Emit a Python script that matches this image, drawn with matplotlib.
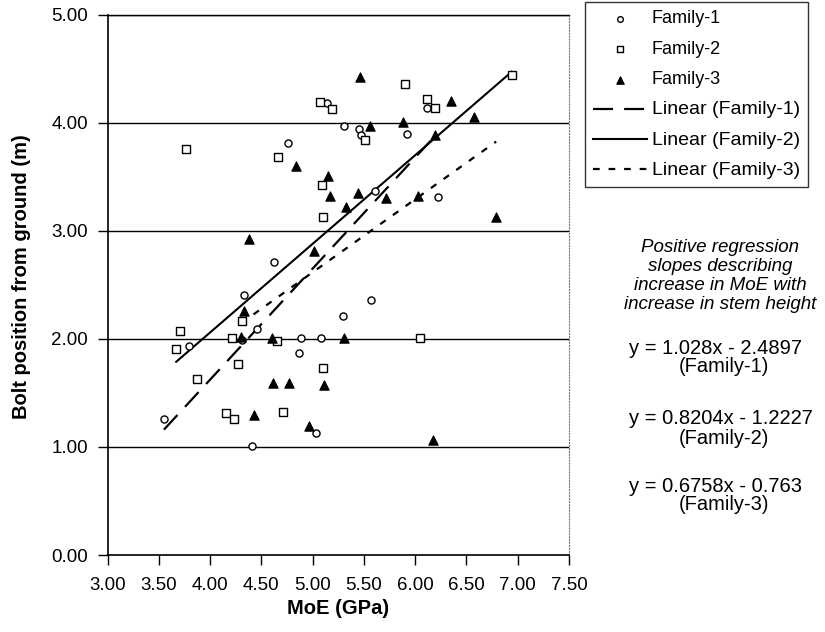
import numpy as np
import matplotlib
matplotlib.use("Agg")
import matplotlib.pyplot as plt

plt.rcParams['font.family'] = ['Liberation Sans', 'DejaVu Sans']

#%% data (MoE in GPa, bolt position in m)
f1_moe = [5.14, 5.31, 5.45, 5.47, 4.76, 5.61, 6.12, 5.92, 6.22, 4.62, 4.33,
          4.46, 3.79, 4.31, 4.89, 5.08, 5.30, 5.57, 4.87, 3.55, 5.03, 4.41]
f1_pos = [4.18, 3.97, 3.94, 3.89, 3.81, 3.37, 4.14, 3.90, 3.31, 2.71, 2.41,
          2.09, 1.93, 1.99, 2.01, 2.01, 2.21, 2.36, 1.87, 1.26, 1.13, 1.01]

f2_moe = [5.07, 5.19, 5.51, 3.77, 4.66, 5.09, 5.10, 5.90, 6.12, 6.19, 6.94,
          4.31, 3.71, 3.67, 4.21, 4.65, 4.27, 5.10, 3.87, 4.16, 4.23, 4.71, 6.05]
f2_pos = [4.19, 4.13, 3.84, 3.76, 3.68, 3.42, 3.13, 4.36, 4.22, 4.14, 4.44,
          2.17, 2.07, 1.91, 2.01, 1.98, 1.77, 1.73, 1.63, 1.31, 1.26, 1.32, 2.01]

f3_moe = [5.46, 5.56, 4.84, 5.15, 5.17, 5.44, 5.33, 4.38, 5.01, 5.88, 6.35,
          6.57, 6.19, 5.72, 6.03, 6.79, 4.33, 4.30, 4.60, 5.31, 4.61, 4.77,
          5.11, 4.43, 4.96, 6.17]
f3_pos = [4.42, 3.97, 3.60, 3.51, 3.32, 3.35, 3.22, 2.92, 2.81, 4.01, 4.20,
          4.05, 3.89, 3.30, 3.32, 3.13, 2.26, 2.02, 2.01, 2.01, 1.59, 1.59,
          1.57, 1.30, 1.19, 1.06]

# trendline equations printed on the chart (slope, intercept)
slopes = [1.028, 0.8204, 0.6758]
intercepts = [-2.4897, -1.2227, -0.763]
eq_labels = ['y = 1.028x - 2.4897', 'y = 0.8204x - 1.2227', 'y = 0.6758x - 0.763']

xticks = [3.0, 3.5, 4.0, 4.5, 5.0, 5.5, 6.0, 6.5, 7.0, 7.5]
yticks = [0.0, 1.0, 2.0, 3.0, 4.0, 5.0]

#%% figure
W, H = 825, 632
fig = plt.figure(figsize=(W / 100, H / 100), dpi=100)
ax = fig.add_axes([107.5 / W, 1 - 555 / H, (569 - 107.5) / W, (555 - 14.7) / H])

for y in yticks[1:]:
    ax.axhline(y, color='black', lw=1.0, zorder=1)

ax.scatter(f1_moe, f1_pos, marker='o', s=26, facecolors='white',
           edgecolors='black', linewidths=1.0, zorder=3, label='Family-1')
ax.scatter(f2_moe, f2_pos, marker='s', s=28, facecolors='white',
           edgecolors='black', linewidths=1.0, zorder=3, label='Family-2')
ax.scatter(f3_moe, f3_pos, marker='^', s=45, facecolors='black',
           edgecolors='black', linewidths=0.8, zorder=3, label='Family-3')

styles = [dict(ls=(0, (9, 5)), lw=1.6), dict(ls='-', lw=1.5), dict(ls=(0, (3, 4)), lw=1.6)]
names = ['Linear (Family-1)', 'Linear (Family-2)', 'Linear (Family-3)']
for xs, m, b, st, nm in zip([f1_moe, f2_moe, f3_moe], slopes, intercepts, styles, names):
    xx = np.array([min(xs), max(xs)])
    ax.plot(xx, m * xx + b, color='black', zorder=2, label=nm, **st)

ax.set_xlim(3.0, 7.5)
ax.set_ylim(0.0, 5.0)
ax.set_xticks(xticks)
ax.set_yticks(yticks)
ax.set_xticklabels(['%.2f' % v for v in xticks], fontsize=13.5)
ax.set_yticklabels(['%.2f' % v for v in yticks], fontsize=13.5)
ax.tick_params(direction='out', length=7, width=1, color='black')
ax.tick_params(axis='x', pad=9)
ax.tick_params(axis='y', pad=7)

ax.spines['left'].set_linewidth(1.2)
ax.spines['bottom'].set_linewidth(1.2)
ax.spines['top'].set_color('black')
ax.spines['top'].set_linewidth(1.0)
ax.spines['right'].set_color('#777777')
ax.spines['right'].set_linestyle(':')

ax.set_xlabel('MoE (GPa)', fontsize=14.5, fontweight='bold', va='center')
ax.set_ylabel('Bolt position from ground (m)', fontsize=14.5, fontweight='bold')
ax.xaxis.set_label_coords(0.5, (555 - 608) / 540.3)
ax.yaxis.set_label_coords((31 - 107.5) / 461.5, 0.516)

leg = fig.legend(loc='upper left', bbox_to_anchor=(585 / W, 1 - 2 / H),
                 fontsize=12, frameon=True, fancybox=False, edgecolor='black',
                 handlelength=3.2, labelspacing=0.8, borderpad=0.5,
                 handletextpad=0.3, borderaxespad=0, markerscale=0.8)
leg.get_frame().set_linewidth(1.0)
for t in leg.get_texts()[:3]:
    t.set_fontsize(13)
for t in leg.get_texts()[3:]:
    t.set_fontsize(14)

fig.text(720 / W, 1 - 276 / H,
         'Positive regression\nslopes describing\nincrease in MoE with\nincrease in stem height',
         ha='center', va='center', fontsize=13.5, style='italic', linespacing=1.15)

eq_y = [348, 419, 486]
for i, (lab, yy) in enumerate(zip(eq_labels, eq_y)):
    fig.text(629 / W, 1 - yy / H, lab, ha='left', va='center', fontsize=14.5)
    fig.text(724 / W, 1 - (yy + 19) / H, '(Family-%d)' % (i + 1),
             ha='center', va='center', fontsize=14.5)

fig.savefig('out.png', dpi=100)
